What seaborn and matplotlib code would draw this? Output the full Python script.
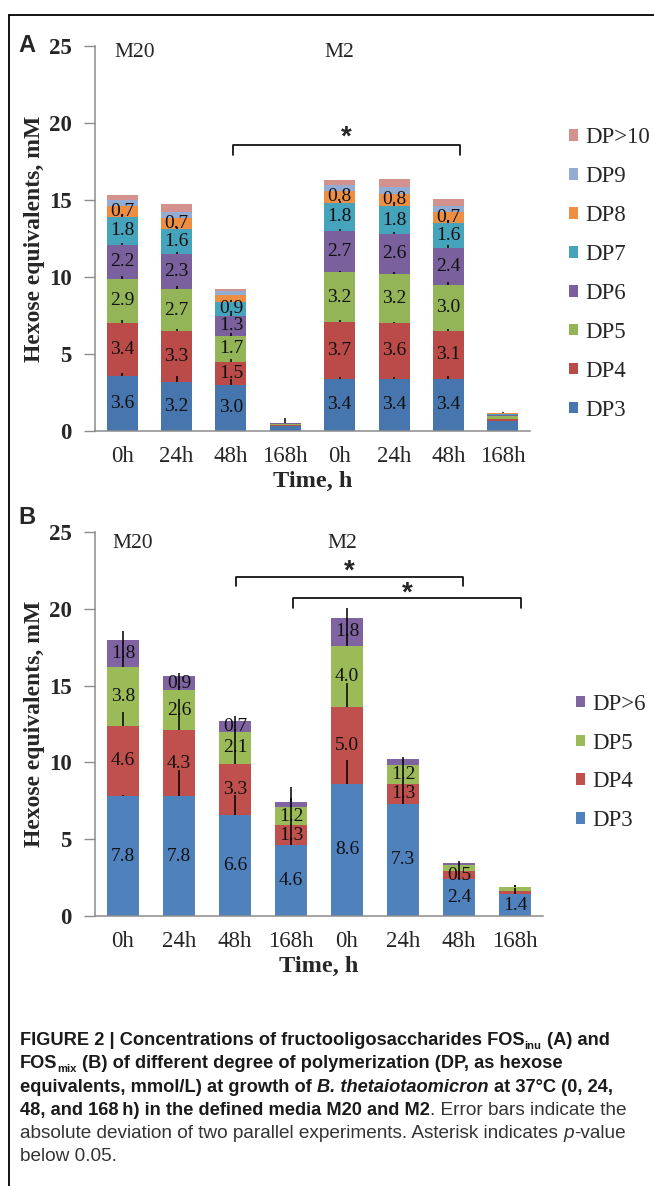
import numpy as np
import matplotlib
matplotlib.use('Agg')
import matplotlib.pyplot as plt
import seaborn as sns
from matplotlib.lines import Line2D
from matplotlib.patches import Patch
from matplotlib.transforms import IdentityTransform

sns.set_style('white')
plt.rcParams['font.family'] = ['Liberation Serif', 'DejaVu Serif']

# ---- data -------------------------------------------------------------
bars = ['M20 0h', 'M20 24h', 'M20 48h', 'M20 168h', 'M2 0h', 'M2 24h', 'M2 48h', 'M2 168h']
time_labels = ['0h', '24h', '48h', '168h', '0h', '24h', '48h', '168h']

# panel A: FOS inu
series_a = ['DP3', 'DP4', 'DP5', 'DP6', 'DP7', 'DP8', 'DP9', 'DP>10']
a_dp3 = [3.6, 3.2, 3.0, 0.35, 3.4, 3.4, 3.4, 0.65]
a_dp4 = [3.4, 3.3, 1.5, 0.05, 3.7, 3.6, 3.1, 0.10]
a_dp5 = [2.9, 2.7, 1.7, 0.05, 3.2, 3.2, 3.0, 0.20]
a_dp6 = [2.2, 2.3, 1.3, 0.04, 2.7, 2.6, 2.4, 0.12]
a_dp7 = [1.8, 1.6, 0.9, 0.02, 1.8, 1.8, 1.6, 0.05]
a_dp8 = [0.7, 0.7, 0.4, 0.02, 0.8, 0.8, 0.7, 0.03]
a_dp9 = [0.4, 0.45, 0.3, 0.01, 0.35, 0.45, 0.43, 0.01]
a_dp10 = [0.3, 0.47, 0.15, 0.01, 0.35, 0.5, 0.43, 0.01]

a_err_dp3 = [0.15, 0.35, 0.35, 0.0, 0.1, 0.1, 0.15, 0.0]
a_err_dp4 = [0.2, 0.15, 0.2, 0.0, 0.1, 0.1, 0.15, 0.0]
a_err_dp5 = [0.15, 0.2, 0.15, 0.0, 0.1, 0.1, 0.15, 0.0]
a_err_dp6 = [0.1, 0.15, 0.15, 0.0, 0.1, 0.1, 0.15, 0.0]
a_err_dp7 = [0.15, 0.15, 0.1, 0.0, 0.15, 0.15, 0.2, 0.0]
a_err_dp8 = [0.0, 0.0, 0.0, 0.0, 0.0, 0.0, 0.0, 0.0]
a_err_dp9 = [0.0, 0.0, 0.0, 0.0, 0.0, 0.0, 0.0, 0.0]
a_err_dp10 = [0.0, 0.0, 0.0, 0.3, 0.0, 0.0, 0.0, 0.05]

# panel B: FOS mix
series_b = ['DP3', 'DP4', 'DP5', 'DP>6']
b_dp3 = [7.8, 7.8, 6.6, 4.6, 8.6, 7.3, 2.4, 1.4]
b_dp4 = [4.6, 4.3, 3.3, 1.3, 5.0, 1.3, 0.5, 0.2]
b_dp5 = [3.8, 2.6, 2.1, 1.2, 4.0, 1.2, 0.4, 0.3]
b_dp6 = [1.8, 0.9, 0.7, 0.35, 1.8, 0.4, 0.15, 0.02]

b_err_dp3 = [0.1, 1.7, 1.3, 1.4, 1.55, 1.3, 0.5, 0.2]
b_err_dp4 = [0.9, 2.0, 2.1, 1.3, 1.55, 1.2, 0.4, 0.2]
b_err_dp5 = [1.8, 0.9, 0.7, 0.6, 1.8, 0.4, 0.15, 0.1]
b_err_dp6 = [0.55, 0.25, 0.35, 0.95, 0.65, 0.15, 0.1, 0.1]

colors_a = ['#4775AE', '#BA4B48', '#94B557', '#7A619D', '#46A3BC', '#EE8E42', '#93ACD4', '#D4928F']
colors_b = ['#4F81BD', '#C0504D', '#9BBB59', '#8064A2']

W, H = 654, 1186
fig = plt.figure(figsize=(W / 100, H / 100), dpi=100)
ax_a = fig.add_axes([95 / W, 1 - 431 / H, 435 / W, 385 / H])
ax_b = fig.add_axes([95 / W, 1 - 916 / H, 448 / W, 384 / H])


def stacked(ax, names, values, errors, colors, min_label):
    vals = np.array(values)
    cum = np.cumsum(vals, axis=0)
    # draw cumulative totals from the top series down so each one covers the next
    for i in reversed(range(len(names))):
        sns.barplot(x=bars, y=cum[i], order=bars, color=colors[i], saturation=1,
                    width=0.57, errorbar=None, linewidth=0, ax=ax)
    pos = np.arange(len(bars))
    for i in range(len(names)):
        for j in range(len(bars)):
            v = vals[i, j]
            if v >= min_label:
                ax.text(j, cum[i, j] - v / 2, f'{v:.1f}', ha='center', va='center',
                        fontsize=14, color='#111111', zorder=4)
    for i in range(len(names)):
        err = np.array(errors[i])
        ax.errorbar(pos, cum[i], yerr=[np.zeros_like(err), err], fmt='none',
                    ecolor='black', elinewidth=1.1, capsize=0, zorder=5)
    ax.set_xlim(-0.5, len(bars) - 0.5)
    ax.set_ylim(0, 25)
    ax.set_yticks([0, 5, 10, 15, 20, 25])
    ax.set_xticks(pos)
    ax.set_xticklabels(time_labels, fontsize=16.5)
    ax.tick_params(axis='x', length=0, pad=11)
    ax.tick_params(axis='y', length=8, width=1, color='#8C8C8C', pad=9, labelsize=16.5, left=True)
    for lbl in ax.get_yticklabels():
        lbl.set_fontweight('bold')
    sns.despine(ax=ax)
    for s in ['left', 'bottom']:
        ax.spines[s].set_color('#8C8C8C')
        ax.spines[s].set_linewidth(1.1)
    ax.set_xlabel('Time, h', fontsize=17.5, fontweight='bold', labelpad=3)
    ax.set_ylabel('Hexose equivalents, mM', fontsize=17, fontweight='bold')
    handles = [Patch(facecolor=c, edgecolor='none', label=n) for n, c in zip(names, colors)][::-1]
    return handles


def bracket(ax, x1, x2, y, drop, star_y):
    ax.plot([x1, x1, x2, x2], [y - drop, y, y, y - drop], color='black', lw=1.2,
            clip_on=False, zorder=6)
    ax.text((x1 + x2) / 2, star_y, '*', ha='center', va='center', fontsize=20,
            fontweight='bold', family=['Liberation Sans', 'DejaVu Sans'])


h_a = stacked(ax_a, series_a, [a_dp3, a_dp4, a_dp5, a_dp6, a_dp7, a_dp8, a_dp9, a_dp10],
              [a_err_dp3, a_err_dp4, a_err_dp5, a_err_dp6, a_err_dp7, a_err_dp8, a_err_dp9, a_err_dp10],
              colors_a, 0.7)
h_b = stacked(ax_b, series_b, [b_dp3, b_dp4, b_dp5, b_dp6],
              [b_err_dp3, b_err_dp4, b_err_dp5, b_err_dp6], colors_b, 0.5)

ax_a.yaxis.set_label_coords(-0.115, 0.5)
ax_b.yaxis.set_label_coords(-0.112, 0.5)

leg_kw = dict(frameon=False, fontsize=16.5, handlelength=0.4, handleheight=0.4,
              handletextpad=0.33, labelspacing=0.78, borderpad=0, borderaxespad=0,
              loc='center left', bbox_transform=fig.transFigure)
ax_a.legend(handles=h_a, bbox_to_anchor=(569 / W, 1 - 274 / H), **leg_kw)
ax_b.legend(handles=h_b, bbox_to_anchor=(576 / W, 1 - 762.5 / H), **leg_kw)

# medium labels
ax_a.text(0.235, 24.57, 'M20', ha='center', va='center', fontsize=15.5)
ax_a.text(4.0, 24.57, 'M2', ha='center', va='center', fontsize=15.5)
ax_b.text(0.17, 24.28, 'M20', ha='center', va='center', fontsize=15.5)
ax_b.text(3.91, 24.28, 'M2', ha='center', va='center', fontsize=15.5)

# significance brackets
bracket(ax_a, 2.03, 6.21, 18.6, 0.7, 19.05)
bracket(ax_b, 2.01, 6.07, 22.07, 0.6, 22.4)
bracket(ax_b, 3.04, 7.1, 20.7, 0.65, 21.0)

# panel letters
fig.text(27 / W, 1 - 46 / H, 'A', ha='center', va='center', fontsize=17, fontweight='bold',
         family=['Liberation Sans', 'DejaVu Sans'])
fig.text(27 / W, 1 - 517 / H, 'B', ha='center', va='center', fontsize=17, fontweight='bold',
         family=['Liberation Sans', 'DejaVu Sans'])

# frame
fig.add_artist(Line2D([9 / W, 9 / W], [0, 1 - 15 / H], color='black', lw=1.3, transform=fig.transFigure))
fig.add_artist(Line2D([9 / W, 1], [1 - 15 / H, 1 - 15 / H], color='black', lw=1.3, transform=fig.transFigure))

# ---- caption with mixed styles -----------------------------------------
renderer = fig.canvas.get_renderer()
cap_font = ['Liberation Sans Narrow', 'Liberation Sans', 'DejaVu Sans']
B, R, BI, I, SB = 'bold', 'regular', 'bolditalic', 'italic', 'boldsub'

cap_lines = [
    [('FIGURE 2 | Concentrations of fructooligosaccharides FOS', B), ('inu', SB), (' (A) and', B)],
    [('FOS', B), ('mix', SB), (' (B) of different degree of polymerization (DP, as hexose', B)],
    [('equivalents, mmol/L) at growth of ', B), ('B. thetaiotaomicron', BI), (' at 37°C (0, 24,', B)],
    [('48, and 168\u2009h) in the defined media M20 and M2', B), ('. Error bars indicate the', R)],
    [('absolute deviation of two parallel experiments. Asterisk indicates ', R), ('p', I), ('-value', R)],
    [('below 0.05.', R)],
]

sizes = {'bold': 10.0, 'regular': 10.0}


def props(style):
    weight = 'bold' if 'bold' in style else 'normal'
    fstyle = 'italic' if 'italic' in style else 'normal'
    size = sizes['bold'] if 'bold' in style else sizes['regular']
    fs = size * 0.62 if 'sub' in style else size
    color = '#1A1A1A' if 'bold' in style else '#333333'
    return dict(fontsize=fs, fontweight=weight, fontstyle=fstyle, family=cap_font, color=color)


def text_w(s, p):
    t = fig.text(0, 0, s, transform=IdentityTransform(), **p)
    w = t.get_window_extent(renderer).width
    t.remove()
    return w


def run_line(runs, x0, baseline, draw=True):
    x = x0
    for s, style in runs:
        p = props(style)
        sp = text_w('| |', p) - text_w('||', p)
        core = s.strip(' ')
        x += (len(s) - len(s.lstrip(' '))) * sp
        if draw:
            dy = -p['fontsize'] * 0.5 if 'sub' in style else 0
            fig.text(x, H - baseline + dy, core, transform=IdentityTransform(), va='baseline', ha='left', **p)
        x += text_w('|' + core + '|', p) - text_w('||', p)
        x += (len(s) - len(s.rstrip(' '))) * sp
    return x - x0


# fit bold and regular sizes separately to the line widths of the reference
bold_total = sum(run_line(cap_lines[k], 20, 0, draw=False) for k in range(3))
sizes['bold'] = 10.0 * (535 + 577 + 607) / bold_total
sizes['regular'] = 10.0 * 613 / run_line(cap_lines[4], 20, 0, draw=False)
baselines = [1045, 1068, 1092, 1115, 1138, 1161]
for runs, bl in zip(cap_lines, baselines):
    run_line(runs, 20, bl)

fig.savefig('out.png', dpi=100)
